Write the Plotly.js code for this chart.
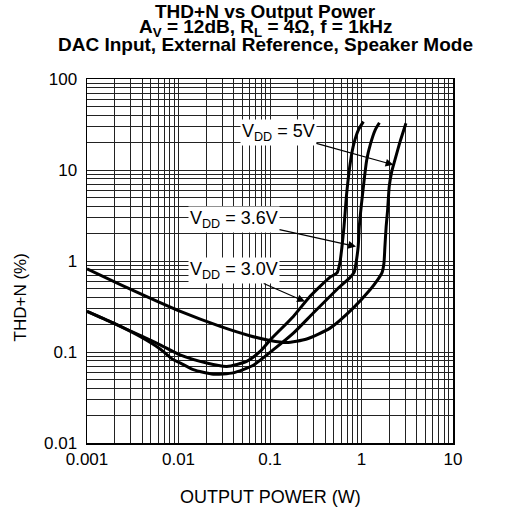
<!DOCTYPE html>
<html><head><meta charset="utf-8">
<script src="https://cdn.plot.ly/plotly-3.0.1.min.js"></script>
<style>html,body{margin:0;padding:0;background:#fff}</style>
</head><body><div id="chart" style="width:509px;height:519px"></div>
<script>
// Output power (W) and THD+N (%)
const power30 = [0.001,0.0019,0.0038,0.0063,0.0104,0.0203,0.0337,0.0556,0.078,0.1,0.18,0.273,0.45,0.54,0.58,0.61,0.644,0.689,0.762,0.828,0.923,1.05];
const thd30   = [0.28,0.21,0.152,0.12,0.093,0.0757,0.0695,0.0789,0.1016,0.135,0.246,0.407,0.66,0.74,0.95,1.4,2.39,5.56,12.9,19.7,27.5,34];

const power36 = [0.001,0.0019,0.0038,0.0063,0.0088,0.0104,0.0145,0.024,0.0397,0.065,0.109,0.18,0.297,0.582,0.75,0.83,0.871,0.92,0.946,1.03,1.14,1.26,1.41,1.57];
const thd36   = [0.28,0.21,0.148,0.108,0.082,0.076,0.064,0.057,0.059,0.071,0.106,0.161,0.268,0.525,0.66,0.75,0.95,1.44,2.39,5.56,12.9,19.7,27.5,33];

const power50 = [0.001,0.00297,0.0105,0.0286,0.06,0.1,0.152,0.252,0.453,0.81,1.24,1.5,1.68,1.76,1.8,1.86,1.93,2.01,2.14,2.32,2.64,3.06];
const thd50   = [0.82,0.49,0.279,0.191,0.151,0.134,0.127,0.139,0.183,0.304,0.483,0.62,0.75,0.95,1.4,2.4,3.65,6.6,9.6,12.9,20.5,32.7];

const xDecades = [0.001,0.01,0.1,1,10];
const xTickText = ['0.001','0.01','0.1','1','10'];
const yDecades = [0.01,0.1,1,10,100];
const yTickText = ['0.01','0.1','1','10','100'];

const seriesNames = ['V<sub>DD</sub> = 3.0V','V<sub>DD</sub> = 3.6V','V<sub>DD</sub> = 5V'];

function minorTicks(decades){
  const vals=[];
  decades.slice(0,-1).forEach(d=>{ for(let m=2;m<=9;m++) vals.push(d*m); });
  return vals;
}

const FONT = 'Liberation Sans, Arial, sans-serif';
const lineStyle = {color:'#000', width:3, shape:'spline', smoothing:0.6};
const traces = [
  {x:power30,y:thd30,name:seriesNames[0],mode:'lines',line:lineStyle,hoverinfo:'skip'},
  {x:power36,y:thd36,name:seriesNames[1],mode:'lines',line:lineStyle,hoverinfo:'skip'},
  {x:power50,y:thd50,name:seriesNames[2],mode:'lines',line:lineStyle,hoverinfo:'skip'}
];

// label arrow tips (data units) and text offsets (px)
const tipX = [0.241, 0.871, 2.23];
const tipY = [0.359, 1.44, 11.4];
const offX = [-71, -122, -115];
const offY = [-31, -27, -32];

const labelAnn = seriesNames.map((t,i)=>({
  x:Math.log10(tipX[i]), y:Math.log10(tipY[i]), xref:'x', yref:'y',
  text:t, showarrow:true, ax:offX[i], ay:offY[i], axref:'pixel', ayref:'pixel',
  arrowhead:2, arrowsize:1.3, arrowwidth:1.2, arrowcolor:'#000',
  bgcolor:'#fff', borderpad:1, font:{family:FONT,size:18,color:'#000'}
}));

const titleLines = ['THD+N vs Output Power','A<sub>V</sub> = 12dB, R<sub>L</sub> = 4Ω, f = 1kHz','DAC Input, External Reference, Speaker Mode'];
const titleY = [1.186, 1.140, 1.094];
const titleAnn = titleLines.map((t,i)=>({
  x:0.489, y:titleY[i], xref:'paper', yref:'paper', xanchor:'center', yanchor:'middle',
  text:'<b>'+t+'</b>', showarrow:false, font:{family:FONT,size:19,color:'#000'}
}));

const axisAnn = [
  {x:0.5, y:-0.148, xref:'paper', yref:'paper', text:'OUTPUT POWER (W)', showarrow:false,
   xanchor:'center', yanchor:'middle', font:{family:FONT,size:18,color:'#000'}},
  {x:-0.183, y:0.40, xref:'paper', yref:'paper', text:'THD+N (%)', showarrow:false, textangle:-90,
   xanchor:'center', yanchor:'middle', font:{family:FONT,size:17,color:'#000'}}
];

const gridStyle = {showgrid:true, gridcolor:'#222', gridwidth:1, ticks:''};
const layout = {
  width:509, height:519,
  margin:{l:87, r:56, t:79, b:76},
  paper_bgcolor:'#fff', plot_bgcolor:'#fff',
  showlegend:false,
  font:{family:FONT, size:17, color:'#000'},
  xaxis:{type:'log', range:[-3,1], tickmode:'array', tickvals:xDecades, ticktext:xTickText,
    showgrid:true, gridcolor:'#222', gridwidth:1, zeroline:false, ticks:'',
    minor:Object.assign({tickmode:'array', tickvals:minorTicks(xDecades)}, gridStyle),
    showline:true, mirror:true, linecolor:'#000', linewidth:1.5,
    tickfont:{family:FONT,size:17,color:'#000'}},
  yaxis:{type:'log', range:[-2,2], tickmode:'array', tickvals:yDecades, ticktext:yTickText,
    showgrid:true, gridcolor:'#222', gridwidth:1, zeroline:false, ticks:'',
    minor:Object.assign({tickmode:'array', tickvals:minorTicks(yDecades)}, gridStyle),
    ticklabelstandoff:5,
    showline:true, mirror:true, linecolor:'#000', linewidth:1.5,
    tickfont:{family:FONT,size:17,color:'#000'}},
  annotations: titleAnn.concat(axisAnn, labelAnn)
};

Plotly.newPlot('chart', traces, layout, {staticPlot:true, displayModeBar:false});
</script></body></html>
